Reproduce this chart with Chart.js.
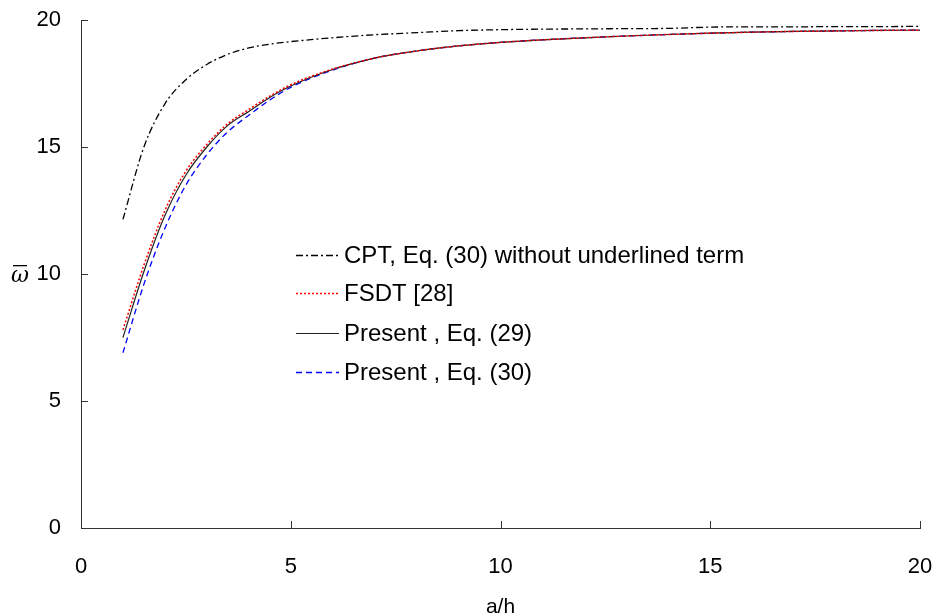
<!DOCTYPE html>
<html>
<head>
<meta charset="utf-8">
<script src="https://cdn.jsdelivr.net/npm/chart.js@4.4.1/dist/chart.umd.min.js"></script>
<style>
  html, body { margin: 0; padding: 0; background: #fff; }
  #wrap { width: 937px; height: 616px; }
</style>
</head>
<body>
<div id="wrap"><canvas id="chart" width="937" height="616"></canvas></div>
<script>
// Values.
var aOverH = [1, 1.5, 2, 2.5, 3, 3.5, 4, 4.5, 5, 6, 7, 8, 9, 10, 11, 12, 13, 14, 15, 16, 17, 18, 19, 20];
var cpt    = [12.15, 15.0, 16.7, 17.65, 18.25, 18.65, 18.9, 19.05, 19.15, 19.3, 19.42, 19.5, 19.58, 19.62, 19.64, 19.65, 19.66, 19.67, 19.72, 19.73, 19.73, 19.74, 19.74, 19.75];
var fsdt   = [7.8, 10.35, 12.5, 14.05, 15.1, 15.92, 16.48, 17.0, 17.45, 18.07, 18.5, 18.78, 18.98, 19.12, 19.22, 19.3, 19.37, 19.43, 19.48, 19.52, 19.55, 19.57, 19.59, 19.6];
var eq29   = [7.5, 10.1, 12.3, 13.9, 15.0, 15.85, 16.4, 16.95, 17.4, 18.05, 18.5, 18.78, 18.98, 19.12, 19.22, 19.3, 19.37, 19.43, 19.48, 19.52, 19.55, 19.57, 19.59, 19.6];
var eq30   = [6.9, 9.6, 11.8, 13.5, 14.7, 15.6, 16.25, 16.85, 17.35, 18.03, 18.5, 18.78, 18.98, 19.12, 19.22, 19.3, 19.37, 19.43, 19.48, 19.52, 19.55, 19.57, 19.59, 19.6];
var xTicks = [0, 5, 10, 15, 20];
var yTicks = [0, 5, 10, 15, 20];
var legendLabels = ['CPT, Eq. (30) without underlined term', 'FSDT [28]', 'Present , Eq. (29)', 'Present , Eq. (30)'];

var FONT = 'Arial, "Liberation Sans", sans-serif';

function toPoints(ys) {
    return ys.map(function(y, i) { return {x: aOverH[i], y: y}; });
}

// Inward ticks, the inline legend and the omega-bar axis label.
var decorPlugin = {
    id: 'decor',
    afterDraw: function(chart) {
        var ctx = chart.ctx;
        var xs = chart.scales.x;
        var ys = chart.scales.y;
        var area = chart.chartArea;
        ctx.save();
        ctx.strokeStyle = '#333';
        ctx.lineWidth = 1;
        ctx.beginPath();
        xTicks.forEach(function(v) {
            var px = Math.round(xs.getPixelForValue(v)) + 0.5;
            ctx.moveTo(px, area.bottom);
            ctx.lineTo(px, area.bottom - 7);
        });
        yTicks.forEach(function(v) {
            var py = Math.round(ys.getPixelForValue(v)) + 0.5;
            ctx.moveTo(area.left, py);
            ctx.lineTo(area.left + 7, py);
        });
        ctx.stroke();

        // legend
        var rows = [255, 293, 333, 372];
        chart.data.datasets.forEach(function(ds, i) {
            var y = rows[i];
            ctx.beginPath();
            ctx.strokeStyle = ds.borderColor;
            ctx.lineWidth = ds.borderWidth;
            ctx.setLineDash(ds.borderDash || []);
            ctx.moveTo(296, y + 0.5);
            ctx.lineTo(339, y + 0.5);
            ctx.stroke();
            ctx.setLineDash([]);
            ctx.fillStyle = '#000';
            ctx.font = '24px ' + FONT;
            ctx.textBaseline = 'middle';
            ctx.textAlign = 'left';
            ctx.fillText(legendLabels[i], 344, y + 1);
        });

        // y label
        ctx.fillStyle = '#000';
        ctx.font = 'italic 22px "DejaVu Serif", serif';
        ctx.textAlign = 'center';
        ctx.textBaseline = 'middle';
        ctx.fillText('\u03C9', 20, 276);
        ctx.fillRect(13, 265, 14, 1.3);
        ctx.restore();
    }
};

new Chart(document.getElementById('chart'), {
    type: 'line',
    data: {
        datasets: [{
            label: legendLabels[0],
            data: toPoints(cpt),
            borderColor: '#000',
            borderWidth: 1.3,
            borderDash: [7, 3, 2, 3]
        }, {
            label: legendLabels[1],
            data: toPoints(fsdt),
            borderColor: '#ff0000',
            borderWidth: 1.5,
            borderDash: [2, 2]
        }, {
            label: legendLabels[2],
            data: toPoints(eq29),
            borderColor: '#222',
            borderWidth: 1.2
        }, {
            label: legendLabels[3],
            data: toPoints(eq30),
            borderColor: '#0000ff',
            borderWidth: 1.3,
            borderDash: [6, 4]
        }]
    },
    options: {
        responsive: false,
        animation: false,
        devicePixelRatio: 1,
        layout: {padding: {top: 20, right: 17, left: 0, bottom: 0}},
        elements: {
            point: {radius: 0},
            line: {cubicInterpolationMode: 'monotone', fill: false}
        },
        plugins: {legend: {display: false}, tooltip: {enabled: false}},
        scales: {
            x: {
                type: 'linear',
                min: 0,
                max: 20,
                afterFit: function(scale) {
                    scale.height = 88;
                    scale.paddingLeft = 0;
                    scale.paddingRight = 0;
                },
                afterBuildTicks: function(scale) {
                    scale.ticks = xTicks.map(function(v) { return {value: v}; });
                },
                grid: {display: false, drawTicks: false},
                border: {display: true, color: '#333', width: 1},
                ticks: {color: '#000', font: {size: 22, family: FONT}, padding: 26, maxRotation: 0},
                title: {display: true, text: 'a/h', color: '#000', font: {size: 21, family: FONT}, padding: {top: 0, bottom: -4}}
            },
            y: {
                type: 'linear',
                min: 0,
                max: 20,
                afterFit: function(scale) {
                    scale.width = 81;
                    scale.paddingTop = 0;
                    scale.paddingBottom = 0;
                },
                afterBuildTicks: function(scale) {
                    scale.ticks = yTicks.map(function(v) { return {value: v}; });
                },
                grid: {display: false, drawTicks: false},
                border: {display: true, color: '#333', width: 1},
                ticks: {color: '#000', font: {size: 22, family: FONT}, padding: 20}
            }
        }
    },
    plugins: [decorPlugin]
});
</script>
</body>
</html>
